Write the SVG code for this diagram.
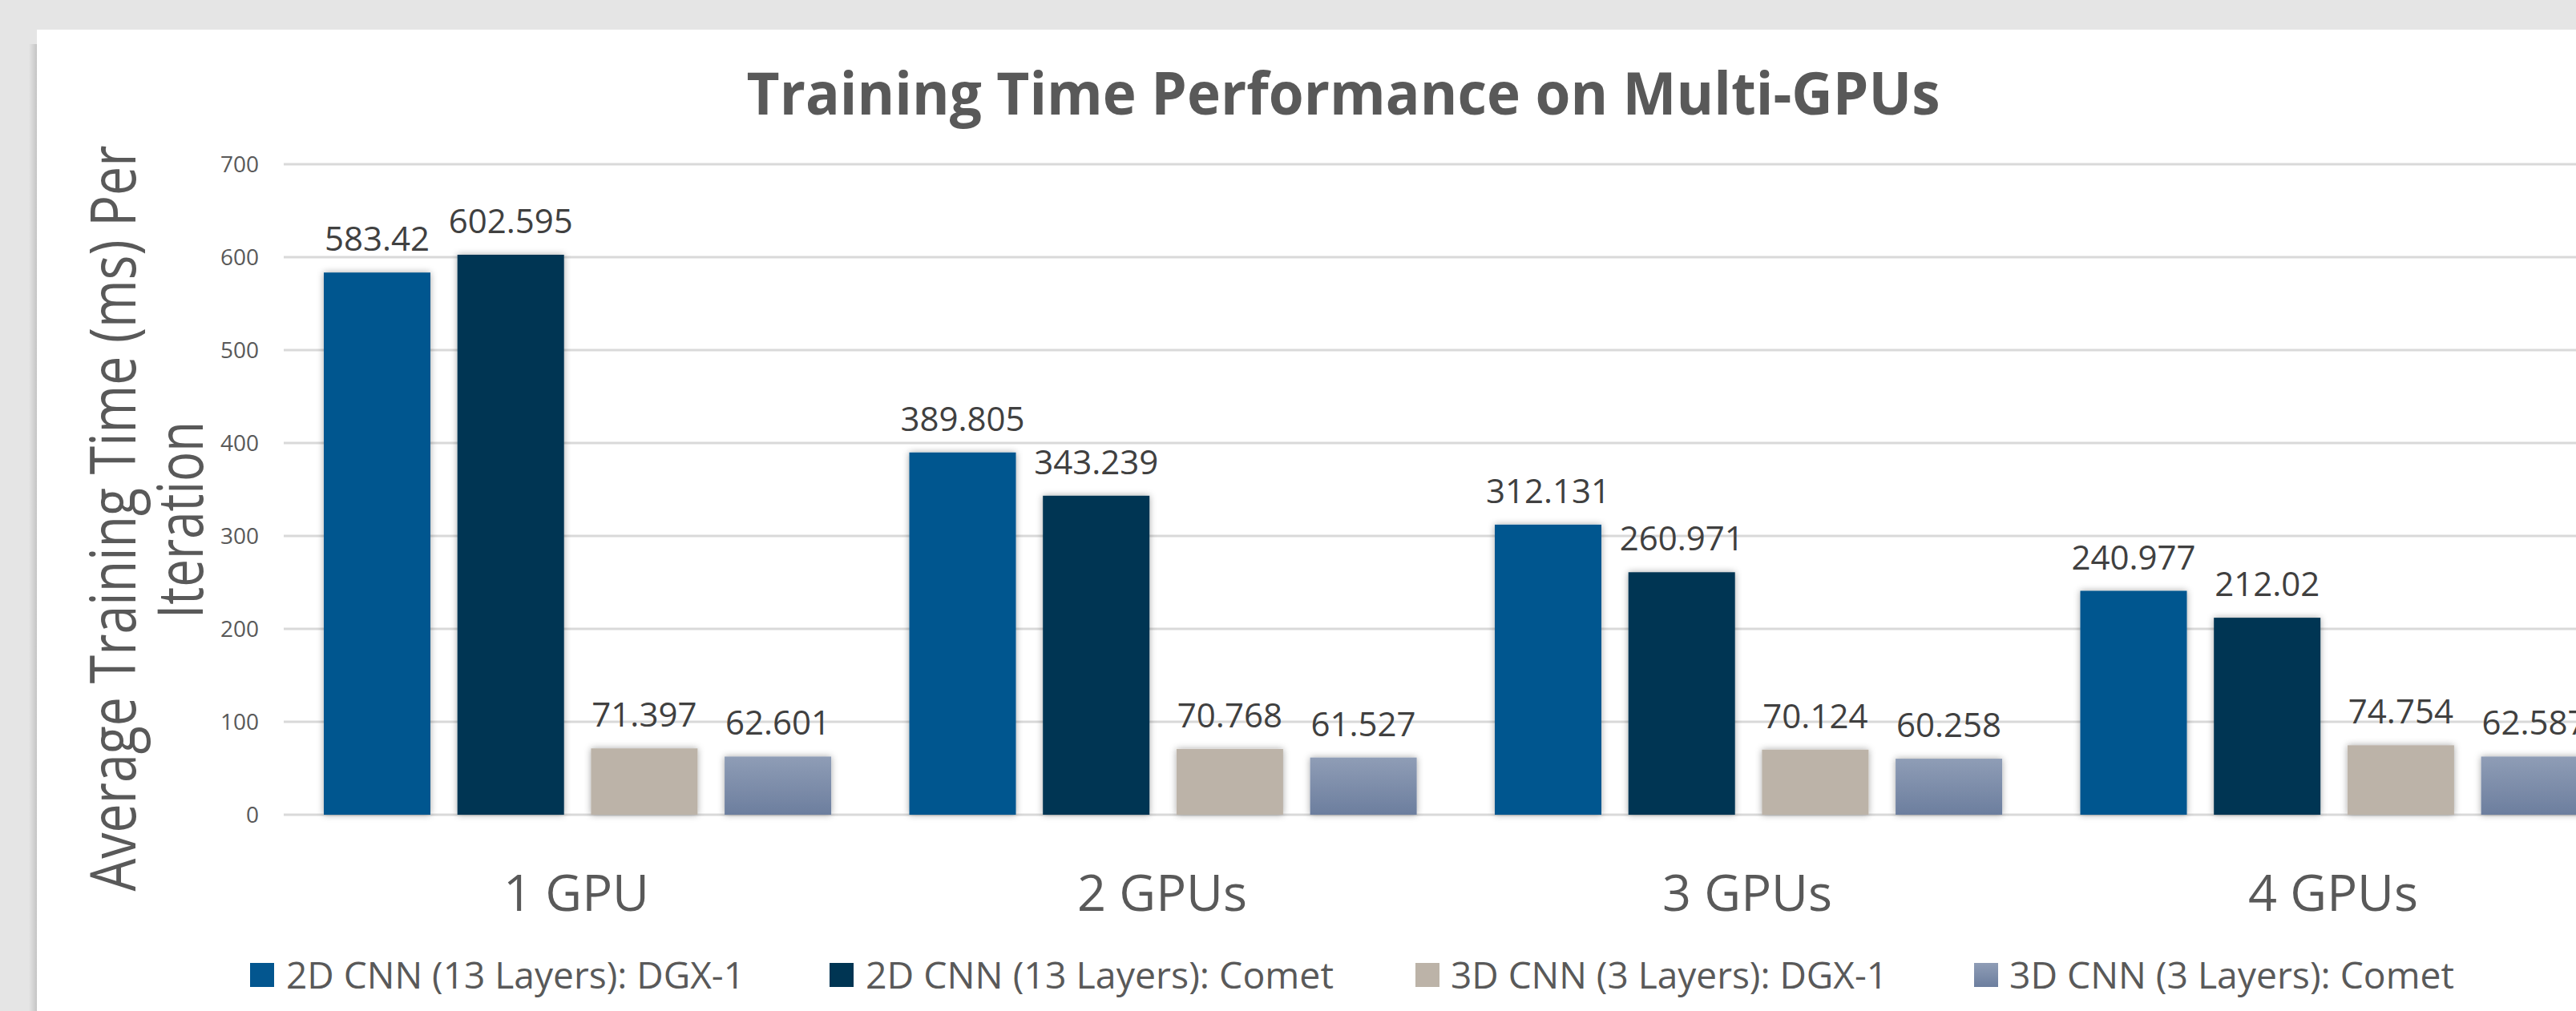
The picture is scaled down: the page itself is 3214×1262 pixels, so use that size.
<svg xmlns="http://www.w3.org/2000/svg" width="3214" height="1262" viewBox="0 0 3214 1262">
<style>
.t{font-family:"Open Sans","Liberation Sans",sans-serif;}
.title{font-size:74px;font-weight:bold;fill:#595959;}
.tick{font-size:28px;fill:#595959;text-anchor:end;}
.val{font-size:42px;fill:#404040;text-anchor:middle;}
.cat{font-size:63px;fill:#595959;text-anchor:middle;}
.leg{font-size:46px;fill:#595959;}
.ytitle{font-size:78px;fill:#595959;text-anchor:middle;}
.grid{stroke:#d9d9d9;stroke-width:3;}
.s1{fill:#03568f;}
.s2{fill:#003553;}
.s3{fill:#bcb3a8;}
.s4{fill:url(#g4);}
</style>
<defs>
<linearGradient id="g4" x1="0" y1="0" x2="0" y2="1">
<stop offset="0" stop-color="#8f9db6"/>
<stop offset="1" stop-color="#6c7e9e"/>
</linearGradient>
<linearGradient id="edge" x1="0" y1="0" x2="1" y2="0">
<stop offset="0" stop-color="#e5e5e5"/>
<stop offset="1" stop-color="#c4c4c4"/>
</linearGradient>
<filter id="sh" x="-20%" y="-20%" width="140%" height="140%">
<feDropShadow dx="0" dy="0" stdDeviation="4" flood-color="#000" flood-opacity="0.35"/>
</filter>
</defs>
<rect width="3214" height="1262" fill="#e5e5e5"/>
<rect x="36" y="55" width="10" height="1207" fill="url(#edge)"/>
<rect x="46" y="37" width="3168" height="1225" fill="#ffffff"/>
<text class="t title" x="1676" y="143" text-anchor="middle" textLength="1489" lengthAdjust="spacingAndGlyphs">Training Time Performance on Multi-GPUs</text>
<g id="y-axis-title">
<text class="t ytitle" transform="translate(169,647) rotate(-90)" x="0" y="0" textLength="931" lengthAdjust="spacingAndGlyphs">Average Training Time (ms) Per</text>
<text class="t ytitle" transform="translate(253,649) rotate(-90)" x="0" y="0" textLength="246" lengthAdjust="spacingAndGlyphs">Iteration</text>
</g>
<g id="gridlines">
<line class="grid" x1="354" y1="205" x2="3214" y2="205"/>
<line class="grid" x1="354" y1="321" x2="3214" y2="321"/>
<line class="grid" x1="354" y1="437" x2="3214" y2="437"/>
<line class="grid" x1="354" y1="553" x2="3214" y2="553"/>
<line class="grid" x1="354" y1="669" x2="3214" y2="669"/>
<line class="grid" x1="354" y1="785" x2="3214" y2="785"/>
<line class="grid" x1="354" y1="901" x2="3214" y2="901"/>
<line class="grid" x1="354" y1="1017" x2="3214" y2="1017"/>
</g>
<g id="y-ticks">
<text class="t tick" x="323" y="215">700</text>
<text class="t tick" x="323" y="331">600</text>
<text class="t tick" x="323" y="447">500</text>
<text class="t tick" x="323" y="563">400</text>
<text class="t tick" x="323" y="679">300</text>
<text class="t tick" x="323" y="795">200</text>
<text class="t tick" x="323" y="911">100</text>
<text class="t tick" x="323" y="1027">0</text>
</g>
<g id="series-2d-dgx1" filter="url(#sh)">
<rect class="s1" x="404" y="340.2" width="133" height="676.8"/>
<rect class="s1" x="1134.5" y="564.8" width="133" height="452.2"/>
<rect class="s1" x="1865" y="654.9" width="133" height="362.1"/>
<rect class="s1" x="2595.5" y="737.5" width="133" height="279.5"/>
</g>
<g id="series-2d-comet" filter="url(#sh)">
<rect class="s2" x="570.7" y="318" width="133" height="699"/>
<rect class="s2" x="1301.2" y="618.8" width="133" height="398.2"/>
<rect class="s2" x="2031.7" y="714.3" width="133" height="302.7"/>
<rect class="s2" x="2762.2" y="771.1" width="133" height="245.9"/>
</g>
<g id="series-3d-dgx1" filter="url(#sh)">
<rect class="s3" x="737.4" y="934.2" width="133" height="82.8"/>
<rect class="s3" x="1467.9" y="934.9" width="133" height="82.1"/>
<rect class="s3" x="2198.4" y="935.7" width="133" height="81.3"/>
<rect class="s3" x="2928.9" y="930.3" width="133" height="86.7"/>
</g>
<g id="series-3d-comet" filter="url(#sh)">
<rect class="s4" x="904.1" y="944.4" width="133" height="72.6"/>
<rect class="s4" x="1634.6" y="945.6" width="133" height="71.4"/>
<rect class="s4" x="2365.1" y="947.1" width="133" height="69.9"/>
<rect class="s4" x="3095.6" y="944.4" width="133" height="72.6"/>
</g>
<g id="data-labels">
<text class="t val" x="470.5" y="313.2">583.42</text>
<text class="t val" x="637.2" y="291">602.595</text>
<text class="t val" x="803.9" y="907.2">71.397</text>
<text class="t val" x="970.6" y="917.4">62.601</text>
<text class="t val" x="1201" y="537.8">389.805</text>
<text class="t val" x="1367.7" y="591.8">343.239</text>
<text class="t val" x="1534.4" y="907.9">70.768</text>
<text class="t val" x="1701.1" y="918.6">61.527</text>
<text class="t val" x="1931.5" y="627.9">312.131</text>
<text class="t val" x="2098.2" y="687.3">260.971</text>
<text class="t val" x="2264.9" y="908.7">70.124</text>
<text class="t val" x="2431.6" y="920.1">60.258</text>
<text class="t val" x="2662" y="710.5">240.977</text>
<text class="t val" x="2828.7" y="744.1">212.02</text>
<text class="t val" x="2995.4" y="903.3">74.754</text>
<text class="t val" x="3162.1" y="917.4">62.587</text>
</g>
<g id="categories">
<text class="t cat" x="719" y="1137">1 GPU</text>
<text class="t cat" x="1450" y="1137">2 GPUs</text>
<text class="t cat" x="2180" y="1137">3 GPUs</text>
<text class="t cat" x="2911" y="1137">4 GPUs</text>
</g>
<g id="legend">
<g id="legend-2d-dgx1"><rect class="s1" x="312" y="1202" width="30" height="30"/><text class="t leg" x="357" y="1234" textLength="572" lengthAdjust="spacingAndGlyphs">2D CNN (13 Layers): DGX-1</text></g>
<g id="legend-2d-comet"><rect class="s2" x="1035" y="1202" width="30" height="30"/><text class="t leg" x="1080" y="1234" textLength="584" lengthAdjust="spacingAndGlyphs">2D CNN (13 Layers): Comet</text></g>
<g id="legend-3d-dgx1"><rect class="s3" x="1766" y="1202" width="30" height="30"/><text class="t leg" x="1810" y="1234" textLength="545" lengthAdjust="spacingAndGlyphs">3D CNN (3 Layers): DGX-1</text></g>
<g id="legend-3d-comet"><rect class="s4" x="2463" y="1202" width="30" height="30"/><text class="t leg" x="2507" y="1234" textLength="555" lengthAdjust="spacingAndGlyphs">3D CNN (3 Layers): Comet</text></g>
</g>
</svg>
